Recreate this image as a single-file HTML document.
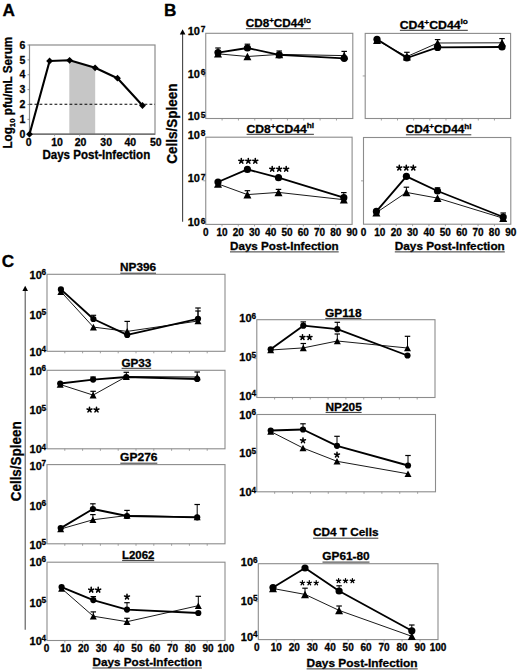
<!DOCTYPE html>
<html><head><meta charset="utf-8"><style>
html,body{margin:0;padding:0;background:#fff;}
svg{display:block;}
text{font-family:"Liberation Sans",sans-serif;stroke:#000;stroke-width:0.3px;}
</style></head><body>
<svg width="520" height="671" viewBox="0 0 520 671">
<rect width="520" height="671" fill="#fff"/>
<text x="2.5" y="15.9" font-size="17.2" text-anchor="start" font-weight="bold" fill="#000" >A</text>
<text x="164.1" y="15.9" font-size="17.2" text-anchor="start" font-weight="bold" fill="#000" >B</text>
<text x="1.8" y="267.2" font-size="17.2" text-anchor="start" font-weight="bold" fill="#000" >C</text>
<polygon points="69.3,60.4 95.2,67.9 95.2,134.2 69.3,134.2" fill="#c6c6c6"/>
<rect x="29.5" y="45.0" width="125.5" height="89.19999999999999" fill="none" stroke="#8c8c8c" stroke-width="1.2"/>
<line x1="29.5" y1="134.2" x2="155.0" y2="134.2" stroke="#666" stroke-width="1.2" />
<line x1="29.5" y1="104.3" x2="155.0" y2="104.3" stroke="#000" stroke-width="1.1" stroke-dasharray="2.8,2.2"/>
<line x1="27.5" y1="134.2" x2="29.5" y2="134.2" stroke="#777" stroke-width="0.8" />
<text x="25.3" y="137.9" font-size="10.5" text-anchor="end" font-weight="bold" fill="#000" >0</text>
<line x1="27.5" y1="119.33333333333333" x2="29.5" y2="119.33333333333333" stroke="#777" stroke-width="0.8" />
<text x="25.3" y="123.03" font-size="10.5" text-anchor="end" font-weight="bold" fill="#000" >1</text>
<line x1="27.5" y1="104.46666666666665" x2="29.5" y2="104.46666666666665" stroke="#777" stroke-width="0.8" />
<text x="25.3" y="108.17" font-size="10.5" text-anchor="end" font-weight="bold" fill="#000" >2</text>
<line x1="27.5" y1="89.6" x2="29.5" y2="89.6" stroke="#777" stroke-width="0.8" />
<text x="25.3" y="93.3" font-size="10.5" text-anchor="end" font-weight="bold" fill="#000" >3</text>
<line x1="27.5" y1="74.73333333333332" x2="29.5" y2="74.73333333333332" stroke="#777" stroke-width="0.8" />
<text x="25.3" y="78.43" font-size="10.5" text-anchor="end" font-weight="bold" fill="#000" >4</text>
<line x1="27.5" y1="59.86666666666666" x2="29.5" y2="59.86666666666666" stroke="#777" stroke-width="0.8" />
<text x="25.3" y="63.57" font-size="10.5" text-anchor="end" font-weight="bold" fill="#000" >5</text>
<line x1="27.5" y1="45.0" x2="29.5" y2="45.0" stroke="#777" stroke-width="0.8" />
<text x="25.3" y="48.7" font-size="10.5" text-anchor="end" font-weight="bold" fill="#000" >6</text>
<line x1="54.6" y1="134.2" x2="54.6" y2="136.2" stroke="#8c8c8c" stroke-width="0.8" />
<line x1="79.7" y1="134.2" x2="79.7" y2="136.2" stroke="#8c8c8c" stroke-width="0.8" />
<line x1="104.8" y1="134.2" x2="104.8" y2="136.2" stroke="#8c8c8c" stroke-width="0.8" />
<line x1="129.9" y1="134.2" x2="129.9" y2="136.2" stroke="#8c8c8c" stroke-width="0.8" />
<text x="28.7" y="146.3" font-size="10.5" text-anchor="middle" font-weight="bold" fill="#000" >0</text>
<text x="57.0" y="146.3" font-size="10.5" text-anchor="middle" font-weight="bold" fill="#000" >10</text>
<text x="80.5" y="146.3" font-size="10.5" text-anchor="middle" font-weight="bold" fill="#000" >20</text>
<text x="106.2" y="146.3" font-size="10.5" text-anchor="middle" font-weight="bold" fill="#000" >30</text>
<text x="130.3" y="146.3" font-size="10.5" text-anchor="middle" font-weight="bold" fill="#000" >40</text>
<text x="155.8" y="146.3" font-size="10.5" text-anchor="middle" font-weight="bold" fill="#000" >50</text>
<text x="42.4" y="158.7" font-size="12" text-anchor="start" font-weight="bold" fill="#000" textLength="107.8" lengthAdjust="spacingAndGlyphs">Days Post-Infection</text>
<text transform="translate(12.4,148.6) rotate(-90)" font-size="12" font-weight="bold" textLength="111.8" lengthAdjust="spacingAndGlyphs">Log<tspan font-size="8" dy="2.5">10</tspan><tspan dy="-2.5"> pfu/mL Serum</tspan></text>
<polyline points="29.5,134.2 49.6,61.0 69.6,60.3 95.1,67.8 117.5,78.2 142.5,105.5" fill="none" stroke="#000" stroke-width="2.1" stroke-linejoin="round"/>
<polygon points="29.5,130.79999999999998 32.9,134.2 29.5,137.6 26.1,134.2" fill="#000"/>
<polygon points="49.6,57.6 53.0,61.0 49.6,64.4 46.2,61.0" fill="#000"/>
<polygon points="69.6,56.9 73.0,60.3 69.6,63.699999999999996 66.19999999999999,60.3" fill="#000"/>
<polygon points="95.1,64.39999999999999 98.5,67.8 95.1,71.2 91.69999999999999,67.8" fill="#000"/>
<polygon points="117.5,74.8 120.9,78.2 117.5,81.60000000000001 114.1,78.2" fill="#000"/>
<polygon points="142.5,102.1 145.9,105.5 142.5,108.9 139.1,105.5" fill="#000"/>
<line x1="182.6" y1="33" x2="182.6" y2="221.8" stroke="#444" stroke-width="1.1" />
<polygon points="182.6,29.2 185.4,34.4 179.8,34.4" fill="#000"/>
<text transform="translate(177.2,163.8) rotate(-90)" font-size="14" font-weight="bold" textLength="80.2" lengthAdjust="spacingAndGlyphs">Cells/Spleen</text>
<rect x="205.75" y="33.3" width="147.05" height="85.2" fill="none" stroke="#8c8c8c" stroke-width="1.1"/>
<line x1="222.0888888888889" y1="118.5" x2="222.0888888888889" y2="120.5" stroke="#8c8c8c" stroke-width="0.8" />
<line x1="238.42777777777778" y1="118.5" x2="238.42777777777778" y2="120.5" stroke="#8c8c8c" stroke-width="0.8" />
<line x1="254.76666666666668" y1="118.5" x2="254.76666666666668" y2="120.5" stroke="#8c8c8c" stroke-width="0.8" />
<line x1="271.10555555555555" y1="118.5" x2="271.10555555555555" y2="120.5" stroke="#8c8c8c" stroke-width="0.8" />
<line x1="287.44444444444446" y1="118.5" x2="287.44444444444446" y2="120.5" stroke="#8c8c8c" stroke-width="0.8" />
<line x1="303.78333333333336" y1="118.5" x2="303.78333333333336" y2="120.5" stroke="#8c8c8c" stroke-width="0.8" />
<line x1="320.12222222222226" y1="118.5" x2="320.12222222222226" y2="120.5" stroke="#8c8c8c" stroke-width="0.8" />
<line x1="336.4611111111111" y1="118.5" x2="336.4611111111111" y2="120.5" stroke="#8c8c8c" stroke-width="0.8" />
<line x1="203.25" y1="75.9" x2="205.75" y2="75.9" stroke="#8c8c8c" stroke-width="0.8" />
<text x="245.7" y="26.8" font-size="11.3" font-weight="bold" textLength="65.3" lengthAdjust="spacingAndGlyphs">CD8<tspan font-size="7.7" dy="-4">+</tspan><tspan dy="4">CD44</tspan><tspan font-size="7.7" dy="-4.2">lo</tspan></text>
<line x1="245.89999999999998" y1="28.7" x2="310.8" y2="28.7" stroke="#333" stroke-width="1.0" />
<polyline points="218.0,53.8 247.4,56.5 279.2,54.4 344.2,55.6" fill="none" stroke="#1a1a1a" stroke-width="1.0" stroke-linejoin="round"/>
<polyline points="218.0,52.6 247.4,48.0 279.2,54.8 344.2,58.3" fill="none" stroke="#000" stroke-width="1.85" stroke-linejoin="round"/>
<line x1="344.2" y1="55.6" x2="344.2" y2="51.4" stroke="#000" stroke-width="1" />
<line x1="341.45" y1="51.4" x2="346.95" y2="51.4" stroke="#000" stroke-width="1.2" />
<line x1="218.0" y1="52.6" x2="218.0" y2="48.0" stroke="#000" stroke-width="1" />
<line x1="215.25" y1="48.0" x2="220.75" y2="48.0" stroke="#000" stroke-width="1.2" />
<line x1="247.4" y1="48.0" x2="247.4" y2="44.2" stroke="#000" stroke-width="1" />
<line x1="244.65" y1="44.2" x2="250.15" y2="44.2" stroke="#000" stroke-width="1.2" />
<line x1="279.2" y1="54.8" x2="279.2" y2="51.0" stroke="#000" stroke-width="1" />
<line x1="276.45" y1="51.0" x2="281.95" y2="51.0" stroke="#000" stroke-width="1.2" />
<polygon points="218.0,50.0 222.0,57.599999999999994 214.0,57.599999999999994" fill="#000"/>
<polygon points="247.4,52.7 251.4,60.3 243.4,60.3" fill="#000"/>
<polygon points="279.2,50.6 283.2,58.199999999999996 275.2,58.199999999999996" fill="#000"/>
<polygon points="344.2,51.800000000000004 348.2,59.4 340.2,59.4" fill="#000"/>
<circle cx="218.0" cy="52.6" r="3.6" fill="#000"/>
<circle cx="247.4" cy="48.0" r="3.6" fill="#000"/>
<circle cx="279.2" cy="54.8" r="3.6" fill="#000"/>
<circle cx="344.2" cy="58.3" r="3.6" fill="#000"/>
<text x="199.95" y="34.9" font-size="11" text-anchor="end" font-weight="bold" fill="#000" >10</text>
<text x="200.75" y="32.4" font-size="8.4" text-anchor="start" font-weight="bold" fill="#000" >7</text>
<text x="199.95" y="77.5" font-size="11" text-anchor="end" font-weight="bold" fill="#000" >10</text>
<text x="200.75" y="75.0" font-size="8.4" text-anchor="start" font-weight="bold" fill="#000" >6</text>
<text x="199.95" y="120.1" font-size="11" text-anchor="end" font-weight="bold" fill="#000" >10</text>
<text x="200.75" y="117.6" font-size="8.4" text-anchor="start" font-weight="bold" fill="#000" >5</text>
<rect x="365.2" y="33.4" width="145.40000000000003" height="85.1" fill="none" stroke="#8c8c8c" stroke-width="1.1"/>
<line x1="381.35555555555555" y1="118.5" x2="381.35555555555555" y2="120.5" stroke="#8c8c8c" stroke-width="0.8" />
<line x1="397.5111111111111" y1="118.5" x2="397.5111111111111" y2="120.5" stroke="#8c8c8c" stroke-width="0.8" />
<line x1="413.6666666666667" y1="118.5" x2="413.6666666666667" y2="120.5" stroke="#8c8c8c" stroke-width="0.8" />
<line x1="429.8222222222222" y1="118.5" x2="429.8222222222222" y2="120.5" stroke="#8c8c8c" stroke-width="0.8" />
<line x1="445.97777777777776" y1="118.5" x2="445.97777777777776" y2="120.5" stroke="#8c8c8c" stroke-width="0.8" />
<line x1="462.1333333333333" y1="118.5" x2="462.1333333333333" y2="120.5" stroke="#8c8c8c" stroke-width="0.8" />
<line x1="478.2888888888889" y1="118.5" x2="478.2888888888889" y2="120.5" stroke="#8c8c8c" stroke-width="0.8" />
<line x1="494.44444444444446" y1="118.5" x2="494.44444444444446" y2="120.5" stroke="#8c8c8c" stroke-width="0.8" />
<line x1="362.7" y1="75.95" x2="365.2" y2="75.95" stroke="#8c8c8c" stroke-width="0.8" />
<text x="399.7" y="28.6" font-size="11.3" font-weight="bold" textLength="68.3" lengthAdjust="spacingAndGlyphs">CD4<tspan font-size="7.7" dy="-4">+</tspan><tspan dy="4">CD44</tspan><tspan font-size="7.7" dy="-4.2">lo</tspan></text>
<line x1="399.9" y1="30.3" x2="467.8" y2="30.3" stroke="#333" stroke-width="1.0" />
<polyline points="377.0,40.3 406.9,56.6 437.6,43.0 502.0,42.8" fill="none" stroke="#1a1a1a" stroke-width="1.0" stroke-linejoin="round"/>
<polyline points="377.0,39.3 406.9,58.0 437.6,47.4 502.0,47.0" fill="none" stroke="#000" stroke-width="1.85" stroke-linejoin="round"/>
<line x1="437.6" y1="43.0" x2="437.6" y2="39.6" stroke="#000" stroke-width="1" />
<line x1="434.85" y1="39.6" x2="440.35" y2="39.6" stroke="#000" stroke-width="1.2" />
<line x1="502.0" y1="42.8" x2="502.0" y2="38.6" stroke="#000" stroke-width="1" />
<line x1="499.25" y1="38.6" x2="504.75" y2="38.6" stroke="#000" stroke-width="1.2" />
<line x1="406.9" y1="58.0" x2="406.9" y2="52.3" stroke="#000" stroke-width="1" />
<line x1="404.15" y1="52.3" x2="409.65" y2="52.3" stroke="#000" stroke-width="1.2" />
<polygon points="377.0,36.5 381.0,44.099999999999994 373.0,44.099999999999994" fill="#000"/>
<polygon points="406.9,52.800000000000004 410.9,60.4 402.9,60.4" fill="#000"/>
<polygon points="437.6,39.2 441.6,46.8 433.6,46.8" fill="#000"/>
<polygon points="502.0,39.0 506.0,46.599999999999994 498.0,46.599999999999994" fill="#000"/>
<circle cx="377.0" cy="39.3" r="3.6" fill="#000"/>
<circle cx="406.9" cy="58.0" r="3.6" fill="#000"/>
<circle cx="437.6" cy="47.4" r="3.6" fill="#000"/>
<circle cx="502.0" cy="47.0" r="3.6" fill="#000"/>
<rect x="205.75" y="137.2" width="146.35000000000002" height="87.20000000000002" fill="none" stroke="#8c8c8c" stroke-width="1.1"/>
<line x1="222.01111111111112" y1="224.4" x2="222.01111111111112" y2="226.4" stroke="#8c8c8c" stroke-width="0.8" />
<line x1="238.27222222222224" y1="224.4" x2="238.27222222222224" y2="226.4" stroke="#8c8c8c" stroke-width="0.8" />
<line x1="254.53333333333333" y1="224.4" x2="254.53333333333333" y2="226.4" stroke="#8c8c8c" stroke-width="0.8" />
<line x1="270.7944444444445" y1="224.4" x2="270.7944444444445" y2="226.4" stroke="#8c8c8c" stroke-width="0.8" />
<line x1="287.05555555555554" y1="224.4" x2="287.05555555555554" y2="226.4" stroke="#8c8c8c" stroke-width="0.8" />
<line x1="303.31666666666666" y1="224.4" x2="303.31666666666666" y2="226.4" stroke="#8c8c8c" stroke-width="0.8" />
<line x1="319.5777777777778" y1="224.4" x2="319.5777777777778" y2="226.4" stroke="#8c8c8c" stroke-width="0.8" />
<line x1="335.8388888888889" y1="224.4" x2="335.8388888888889" y2="226.4" stroke="#8c8c8c" stroke-width="0.8" />
<line x1="203.25" y1="180.8" x2="205.75" y2="180.8" stroke="#8c8c8c" stroke-width="0.8" />
<text x="246.4" y="132.6" font-size="11.3" font-weight="bold" textLength="67.7" lengthAdjust="spacingAndGlyphs">CD8<tspan font-size="7.7" dy="-4">+</tspan><tspan dy="4">CD44</tspan><tspan font-size="7.7" dy="-4.2">hi</tspan></text>
<line x1="246.6" y1="134.3" x2="313.90000000000003" y2="134.3" stroke="#333" stroke-width="1.0" />
<polyline points="218.0,183.9 247.4,194.6 278.5,192.4 343.8,199.7" fill="none" stroke="#1a1a1a" stroke-width="1.0" stroke-linejoin="round"/>
<polyline points="218.0,182.0 247.4,169.4 278.5,177.7 343.8,197.7" fill="none" stroke="#000" stroke-width="1.85" stroke-linejoin="round"/>
<line x1="247.4" y1="194.6" x2="247.4" y2="190.7" stroke="#000" stroke-width="1" />
<line x1="244.65" y1="190.7" x2="250.15" y2="190.7" stroke="#000" stroke-width="1.2" />
<line x1="278.5" y1="192.4" x2="278.5" y2="189.4" stroke="#000" stroke-width="1" />
<line x1="275.75" y1="189.4" x2="281.25" y2="189.4" stroke="#000" stroke-width="1.2" />
<line x1="343.8" y1="197.7" x2="343.8" y2="192.6" stroke="#000" stroke-width="1" />
<line x1="341.05" y1="192.6" x2="346.55" y2="192.6" stroke="#000" stroke-width="1.2" />
<polygon points="218.0,180.1 222.0,187.70000000000002 214.0,187.70000000000002" fill="#000"/>
<polygon points="247.4,190.79999999999998 251.4,198.4 243.4,198.4" fill="#000"/>
<polygon points="278.5,188.6 282.5,196.20000000000002 274.5,196.20000000000002" fill="#000"/>
<polygon points="343.8,195.89999999999998 347.8,203.5 339.8,203.5" fill="#000"/>
<circle cx="218.0" cy="182.0" r="3.6" fill="#000"/>
<circle cx="247.4" cy="169.4" r="3.6" fill="#000"/>
<circle cx="278.5" cy="177.7" r="3.6" fill="#000"/>
<circle cx="343.8" cy="197.7" r="3.6" fill="#000"/>
<path d="M241.30,161.06l0.00,-2.60M241.30,161.06l2.47,-0.80M241.30,161.06l-2.47,-0.80M241.30,161.06l1.53,2.10M241.30,161.06l-1.53,2.10M248.30,161.06l0.00,-2.60M248.30,161.06l2.47,-0.80M248.30,161.06l-2.47,-0.80M248.30,161.06l1.53,2.10M248.30,161.06l-1.53,2.10M255.30,161.06l0.00,-2.60M255.30,161.06l2.47,-0.80M255.30,161.06l-2.47,-0.80M255.30,161.06l1.53,2.10M255.30,161.06l-1.53,2.10" stroke="#000" stroke-width="1.55" stroke-linecap="round" fill="none"/>
<path d="M272.20,169.06l0.00,-2.60M272.20,169.06l2.47,-0.80M272.20,169.06l-2.47,-0.80M272.20,169.06l1.53,2.10M272.20,169.06l-1.53,2.10M279.20,169.06l0.00,-2.60M279.20,169.06l2.47,-0.80M279.20,169.06l-2.47,-0.80M279.20,169.06l1.53,2.10M279.20,169.06l-1.53,2.10M286.20,169.06l0.00,-2.60M286.20,169.06l2.47,-0.80M286.20,169.06l-2.47,-0.80M286.20,169.06l1.53,2.10M286.20,169.06l-1.53,2.10" stroke="#000" stroke-width="1.55" stroke-linecap="round" fill="none"/>
<text x="199.95" y="138.8" font-size="11" text-anchor="end" font-weight="bold" fill="#000" >10</text>
<text x="200.75" y="136.3" font-size="8.4" text-anchor="start" font-weight="bold" fill="#000" >8</text>
<text x="199.95" y="182.4" font-size="11" text-anchor="end" font-weight="bold" fill="#000" >10</text>
<text x="200.75" y="179.9" font-size="8.4" text-anchor="start" font-weight="bold" fill="#000" >7</text>
<text x="199.95" y="226.0" font-size="11" text-anchor="end" font-weight="bold" fill="#000" >10</text>
<text x="200.75" y="223.5" font-size="8.4" text-anchor="start" font-weight="bold" fill="#000" >6</text>
<text x="205.75" y="235.8" font-size="10" text-anchor="middle" font-weight="bold" fill="#000" >0</text>
<text x="222.01" y="235.8" font-size="10" text-anchor="middle" font-weight="bold" fill="#000" >10</text>
<text x="238.27" y="235.8" font-size="10" text-anchor="middle" font-weight="bold" fill="#000" >20</text>
<text x="254.53" y="235.8" font-size="10" text-anchor="middle" font-weight="bold" fill="#000" >30</text>
<text x="270.79" y="235.8" font-size="10" text-anchor="middle" font-weight="bold" fill="#000" >40</text>
<text x="287.06" y="235.8" font-size="10" text-anchor="middle" font-weight="bold" fill="#000" >50</text>
<text x="303.32" y="235.8" font-size="10" text-anchor="middle" font-weight="bold" fill="#000" >60</text>
<text x="319.58" y="235.8" font-size="10" text-anchor="middle" font-weight="bold" fill="#000" >70</text>
<text x="335.84" y="235.8" font-size="10" text-anchor="middle" font-weight="bold" fill="#000" >80</text>
<text x="352.1" y="235.8" font-size="10" text-anchor="middle" font-weight="bold" fill="#000" >90</text>
<rect x="363.5" y="137.5" width="147.3" height="86.69999999999999" fill="none" stroke="#8c8c8c" stroke-width="1.1"/>
<line x1="379.8666666666667" y1="224.2" x2="379.8666666666667" y2="226.2" stroke="#8c8c8c" stroke-width="0.8" />
<line x1="396.23333333333335" y1="224.2" x2="396.23333333333335" y2="226.2" stroke="#8c8c8c" stroke-width="0.8" />
<line x1="412.6" y1="224.2" x2="412.6" y2="226.2" stroke="#8c8c8c" stroke-width="0.8" />
<line x1="428.9666666666667" y1="224.2" x2="428.9666666666667" y2="226.2" stroke="#8c8c8c" stroke-width="0.8" />
<line x1="445.3333333333333" y1="224.2" x2="445.3333333333333" y2="226.2" stroke="#8c8c8c" stroke-width="0.8" />
<line x1="461.7" y1="224.2" x2="461.7" y2="226.2" stroke="#8c8c8c" stroke-width="0.8" />
<line x1="478.06666666666666" y1="224.2" x2="478.06666666666666" y2="226.2" stroke="#8c8c8c" stroke-width="0.8" />
<line x1="494.43333333333334" y1="224.2" x2="494.43333333333334" y2="226.2" stroke="#8c8c8c" stroke-width="0.8" />
<line x1="361.0" y1="180.85" x2="363.5" y2="180.85" stroke="#8c8c8c" stroke-width="0.8" />
<text x="405.7" y="133.0" font-size="11.3" font-weight="bold" textLength="65.8" lengthAdjust="spacingAndGlyphs">CD4<tspan font-size="7.7" dy="-4">+</tspan><tspan dy="4">CD44</tspan><tspan font-size="7.7" dy="-4.2">hi</tspan></text>
<line x1="405.9" y1="134.8" x2="471.3" y2="134.8" stroke="#333" stroke-width="1.0" />
<polyline points="376.4,212.6 406.4,192.4 437.5,198.1 503.2,218.2" fill="none" stroke="#1a1a1a" stroke-width="1.0" stroke-linejoin="round"/>
<polyline points="376.4,211.4 406.4,176.3 437.5,191.0 503.2,217.0" fill="none" stroke="#000" stroke-width="1.85" stroke-linejoin="round"/>
<line x1="406.4" y1="192.4" x2="406.4" y2="187.2" stroke="#000" stroke-width="1" />
<line x1="403.65" y1="187.2" x2="409.15" y2="187.2" stroke="#000" stroke-width="1.2" />
<line x1="503.2" y1="218.2" x2="503.2" y2="213.0" stroke="#000" stroke-width="1" />
<line x1="500.45" y1="213.0" x2="505.95" y2="213.0" stroke="#000" stroke-width="1.2" />
<line x1="437.5" y1="191.0" x2="437.5" y2="187.8" stroke="#000" stroke-width="1" />
<line x1="434.75" y1="187.8" x2="440.25" y2="187.8" stroke="#000" stroke-width="1.2" />
<polygon points="376.4,208.79999999999998 380.4,216.4 372.4,216.4" fill="#000"/>
<polygon points="406.4,188.6 410.4,196.20000000000002 402.4,196.20000000000002" fill="#000"/>
<polygon points="437.5,194.29999999999998 441.5,201.9 433.5,201.9" fill="#000"/>
<polygon points="503.2,214.39999999999998 507.2,222.0 499.2,222.0" fill="#000"/>
<circle cx="376.4" cy="211.4" r="3.6" fill="#000"/>
<circle cx="406.4" cy="176.3" r="3.6" fill="#000"/>
<circle cx="437.5" cy="191.0" r="3.6" fill="#000"/>
<circle cx="503.2" cy="217.0" r="3.6" fill="#000"/>
<path d="M399.30,167.86l0.00,-2.60M399.30,167.86l2.47,-0.80M399.30,167.86l-2.47,-0.80M399.30,167.86l1.53,2.10M399.30,167.86l-1.53,2.10M406.30,167.86l0.00,-2.60M406.30,167.86l2.47,-0.80M406.30,167.86l-2.47,-0.80M406.30,167.86l1.53,2.10M406.30,167.86l-1.53,2.10M413.30,167.86l0.00,-2.60M413.30,167.86l2.47,-0.80M413.30,167.86l-2.47,-0.80M413.30,167.86l1.53,2.10M413.30,167.86l-1.53,2.10" stroke="#000" stroke-width="1.55" stroke-linecap="round" fill="none"/>
<text x="363.5" y="235.8" font-size="10" text-anchor="middle" font-weight="bold" fill="#000" >0</text>
<text x="379.87" y="235.8" font-size="10" text-anchor="middle" font-weight="bold" fill="#000" >10</text>
<text x="396.23" y="235.8" font-size="10" text-anchor="middle" font-weight="bold" fill="#000" >20</text>
<text x="412.6" y="235.8" font-size="10" text-anchor="middle" font-weight="bold" fill="#000" >30</text>
<text x="428.97" y="235.8" font-size="10" text-anchor="middle" font-weight="bold" fill="#000" >40</text>
<text x="445.33" y="235.8" font-size="10" text-anchor="middle" font-weight="bold" fill="#000" >50</text>
<text x="461.7" y="235.8" font-size="10" text-anchor="middle" font-weight="bold" fill="#000" >60</text>
<text x="478.07" y="235.8" font-size="10" text-anchor="middle" font-weight="bold" fill="#000" >70</text>
<text x="494.43" y="235.8" font-size="10" text-anchor="middle" font-weight="bold" fill="#000" >80</text>
<text x="510.8" y="235.8" font-size="10" text-anchor="middle" font-weight="bold" fill="#000" >90</text>
<text x="230.0" y="249.6" font-size="11.5" text-anchor="start" font-weight="bold" fill="#000" textLength="108.7" lengthAdjust="spacingAndGlyphs">Days Post-Infection</text>
<line x1="230.0" y1="251.9" x2="338.7" y2="251.9" stroke="#333" stroke-width="1.0" />
<text x="394.8" y="249.6" font-size="11.5" text-anchor="start" font-weight="bold" fill="#000" textLength="110" lengthAdjust="spacingAndGlyphs">Days Post-Infection</text>
<line x1="394.8" y1="251.9" x2="504.8" y2="251.9" stroke="#333" stroke-width="1.0" />
<line x1="25.2" y1="290" x2="25.2" y2="629.8" stroke="#555" stroke-width="1.1" />
<polygon points="25.2,285.8 28.0,291.0 22.4,291.0" fill="#000"/>
<text transform="translate(21.2,501.3) rotate(-90)" font-size="14" font-weight="bold" textLength="80" lengthAdjust="spacingAndGlyphs">Cells/Spleen</text>
<rect x="47" y="274.3" width="178" height="77.0" fill="none" stroke="#8c8c8c" stroke-width="1.1"/>
<line x1="64.8" y1="351.3" x2="64.8" y2="353.3" stroke="#8c8c8c" stroke-width="0.8" />
<line x1="82.6" y1="351.3" x2="82.6" y2="353.3" stroke="#8c8c8c" stroke-width="0.8" />
<line x1="100.4" y1="351.3" x2="100.4" y2="353.3" stroke="#8c8c8c" stroke-width="0.8" />
<line x1="118.2" y1="351.3" x2="118.2" y2="353.3" stroke="#8c8c8c" stroke-width="0.8" />
<line x1="136.0" y1="351.3" x2="136.0" y2="353.3" stroke="#8c8c8c" stroke-width="0.8" />
<line x1="153.8" y1="351.3" x2="153.8" y2="353.3" stroke="#8c8c8c" stroke-width="0.8" />
<line x1="171.6" y1="351.3" x2="171.6" y2="353.3" stroke="#8c8c8c" stroke-width="0.8" />
<line x1="189.4" y1="351.3" x2="189.4" y2="353.3" stroke="#8c8c8c" stroke-width="0.8" />
<line x1="207.2" y1="351.3" x2="207.2" y2="353.3" stroke="#8c8c8c" stroke-width="0.8" />
<line x1="44.5" y1="312.8" x2="47" y2="312.8" stroke="#8c8c8c" stroke-width="0.8" />
<text x="120.1" y="271.4" font-size="11.3" font-weight="bold" textLength="36.1" lengthAdjust="spacingAndGlyphs">NP396</text>
<line x1="120.3" y1="273.2" x2="156.0" y2="273.2" stroke="#333" stroke-width="1.0" />
<polyline points="60.9,291.6 93.4,327.1 127.2,331.4 198.0,321.0" fill="none" stroke="#1a1a1a" stroke-width="1.0" stroke-linejoin="round"/>
<polyline points="60.9,289.4 93.4,319.0 127.2,334.9 198.0,318.8" fill="none" stroke="#000" stroke-width="1.85" stroke-linejoin="round"/>
<line x1="127.2" y1="331.4" x2="127.2" y2="321.4" stroke="#000" stroke-width="1" />
<line x1="124.45" y1="321.4" x2="129.95" y2="321.4" stroke="#000" stroke-width="1.2" />
<line x1="198.0" y1="321.0" x2="198.0" y2="311.0" stroke="#000" stroke-width="1" />
<line x1="195.25" y1="311.0" x2="200.75" y2="311.0" stroke="#000" stroke-width="1.2" />
<line x1="93.4" y1="319.0" x2="93.4" y2="315.3" stroke="#000" stroke-width="1" />
<line x1="90.65" y1="315.3" x2="96.15" y2="315.3" stroke="#000" stroke-width="1.2" />
<line x1="198.0" y1="318.8" x2="198.0" y2="308.0" stroke="#000" stroke-width="1" />
<line x1="195.25" y1="308.0" x2="200.75" y2="308.0" stroke="#000" stroke-width="1.2" />
<polygon points="60.9,288.3 64.4,294.90000000000003 57.4,294.90000000000003" fill="#000"/>
<polygon points="93.4,323.8 96.9,330.40000000000003 89.9,330.40000000000003" fill="#000"/>
<polygon points="127.2,328.09999999999997 130.7,334.7 123.7,334.7" fill="#000"/>
<polygon points="198.0,317.7 201.5,324.3 194.5,324.3" fill="#000"/>
<circle cx="60.9" cy="289.4" r="3.1" fill="#000"/>
<circle cx="93.4" cy="319.0" r="3.1" fill="#000"/>
<circle cx="127.2" cy="334.9" r="3.1" fill="#000"/>
<circle cx="198.0" cy="318.8" r="3.1" fill="#000"/>
<text x="41.8" y="278.65" font-size="11" text-anchor="end" font-weight="bold" fill="#000" >10</text>
<text x="41.6" y="275.1" font-size="8.2" text-anchor="start" font-weight="bold" fill="#000" >6</text>
<text x="41.8" y="318.65" font-size="11" text-anchor="end" font-weight="bold" fill="#000" >10</text>
<text x="41.6" y="315.1" font-size="8.2" text-anchor="start" font-weight="bold" fill="#000" >5</text>
<text x="41.8" y="355.55" font-size="11" text-anchor="end" font-weight="bold" fill="#000" >10</text>
<text x="41.6" y="352.0" font-size="8.2" text-anchor="start" font-weight="bold" fill="#000" >4</text>
<rect x="47" y="370.3" width="178" height="78.5" fill="none" stroke="#8c8c8c" stroke-width="1.1"/>
<line x1="64.8" y1="448.8" x2="64.8" y2="450.8" stroke="#8c8c8c" stroke-width="0.8" />
<line x1="82.6" y1="448.8" x2="82.6" y2="450.8" stroke="#8c8c8c" stroke-width="0.8" />
<line x1="100.4" y1="448.8" x2="100.4" y2="450.8" stroke="#8c8c8c" stroke-width="0.8" />
<line x1="118.2" y1="448.8" x2="118.2" y2="450.8" stroke="#8c8c8c" stroke-width="0.8" />
<line x1="136.0" y1="448.8" x2="136.0" y2="450.8" stroke="#8c8c8c" stroke-width="0.8" />
<line x1="153.8" y1="448.8" x2="153.8" y2="450.8" stroke="#8c8c8c" stroke-width="0.8" />
<line x1="171.6" y1="448.8" x2="171.6" y2="450.8" stroke="#8c8c8c" stroke-width="0.8" />
<line x1="189.4" y1="448.8" x2="189.4" y2="450.8" stroke="#8c8c8c" stroke-width="0.8" />
<line x1="207.2" y1="448.8" x2="207.2" y2="450.8" stroke="#8c8c8c" stroke-width="0.8" />
<line x1="44.5" y1="409.55" x2="47" y2="409.55" stroke="#8c8c8c" stroke-width="0.8" />
<text x="121.4" y="366.5" font-size="11.3" font-weight="bold" textLength="30.0" lengthAdjust="spacingAndGlyphs">GP33</text>
<line x1="121.60000000000001" y1="368.3" x2="151.20000000000002" y2="368.3" stroke="#333" stroke-width="1.0" />
<polyline points="60.2,384.5 93.1,395.1 126.3,376.6 197.2,377.0" fill="none" stroke="#1a1a1a" stroke-width="1.0" stroke-linejoin="round"/>
<polyline points="60.2,383.5 93.1,379.6 126.3,377.0 197.2,379.0" fill="none" stroke="#000" stroke-width="1.85" stroke-linejoin="round"/>
<line x1="93.1" y1="395.1" x2="93.1" y2="391.3" stroke="#000" stroke-width="1" />
<line x1="90.35" y1="391.3" x2="95.85" y2="391.3" stroke="#000" stroke-width="1.2" />
<line x1="126.3" y1="376.6" x2="126.3" y2="372.3" stroke="#000" stroke-width="1" />
<line x1="123.55" y1="372.3" x2="129.05" y2="372.3" stroke="#000" stroke-width="1.2" />
<line x1="197.2" y1="377.0" x2="197.2" y2="372.0" stroke="#000" stroke-width="1" />
<line x1="194.45" y1="372.0" x2="199.95" y2="372.0" stroke="#000" stroke-width="1.2" />
<line x1="93.1" y1="379.6" x2="93.1" y2="377.0" stroke="#000" stroke-width="1" />
<line x1="90.35" y1="377.0" x2="95.85" y2="377.0" stroke="#000" stroke-width="1.2" />
<polygon points="60.2,381.2 63.7,387.8 56.7,387.8" fill="#000"/>
<polygon points="93.1,391.8 96.6,398.40000000000003 89.6,398.40000000000003" fill="#000"/>
<polygon points="126.3,373.3 129.8,379.90000000000003 122.8,379.90000000000003" fill="#000"/>
<polygon points="197.2,373.7 200.7,380.3 193.7,380.3" fill="#000"/>
<circle cx="60.2" cy="383.5" r="3.1" fill="#000"/>
<circle cx="93.1" cy="379.6" r="3.1" fill="#000"/>
<circle cx="126.3" cy="377.0" r="3.1" fill="#000"/>
<circle cx="197.2" cy="379.0" r="3.1" fill="#000"/>
<path d="M89.50,409.76l0.00,-2.60M89.50,409.76l2.47,-0.80M89.50,409.76l-2.47,-0.80M89.50,409.76l1.53,2.10M89.50,409.76l-1.53,2.10M96.50,409.76l0.00,-2.60M96.50,409.76l2.47,-0.80M96.50,409.76l-2.47,-0.80M96.50,409.76l1.53,2.10M96.50,409.76l-1.53,2.10" stroke="#000" stroke-width="1.55" stroke-linecap="round" fill="none"/>
<text x="41.8" y="374.75" font-size="11" text-anchor="end" font-weight="bold" fill="#000" >10</text>
<text x="41.6" y="371.2" font-size="8.2" text-anchor="start" font-weight="bold" fill="#000" >6</text>
<text x="41.8" y="414.3" font-size="11" text-anchor="end" font-weight="bold" fill="#000" >10</text>
<text x="41.6" y="410.75" font-size="8.2" text-anchor="start" font-weight="bold" fill="#000" >5</text>
<text x="41.8" y="453.15" font-size="11" text-anchor="end" font-weight="bold" fill="#000" >10</text>
<text x="41.6" y="449.6" font-size="8.2" text-anchor="start" font-weight="bold" fill="#000" >4</text>
<rect x="47" y="464.6" width="178" height="79.19999999999993" fill="none" stroke="#8c8c8c" stroke-width="1.1"/>
<line x1="64.8" y1="543.8" x2="64.8" y2="545.8" stroke="#8c8c8c" stroke-width="0.8" />
<line x1="82.6" y1="543.8" x2="82.6" y2="545.8" stroke="#8c8c8c" stroke-width="0.8" />
<line x1="100.4" y1="543.8" x2="100.4" y2="545.8" stroke="#8c8c8c" stroke-width="0.8" />
<line x1="118.2" y1="543.8" x2="118.2" y2="545.8" stroke="#8c8c8c" stroke-width="0.8" />
<line x1="136.0" y1="543.8" x2="136.0" y2="545.8" stroke="#8c8c8c" stroke-width="0.8" />
<line x1="153.8" y1="543.8" x2="153.8" y2="545.8" stroke="#8c8c8c" stroke-width="0.8" />
<line x1="171.6" y1="543.8" x2="171.6" y2="545.8" stroke="#8c8c8c" stroke-width="0.8" />
<line x1="189.4" y1="543.8" x2="189.4" y2="545.8" stroke="#8c8c8c" stroke-width="0.8" />
<line x1="207.2" y1="543.8" x2="207.2" y2="545.8" stroke="#8c8c8c" stroke-width="0.8" />
<line x1="44.5" y1="504.2" x2="47" y2="504.2" stroke="#8c8c8c" stroke-width="0.8" />
<text x="120.1" y="461.4" font-size="11.3" font-weight="bold" textLength="37.4" lengthAdjust="spacingAndGlyphs">GP276</text>
<line x1="120.3" y1="463.2" x2="157.3" y2="463.2" stroke="#333" stroke-width="1.0" />
<polyline points="60.7,529.0 92.9,519.8 127.0,515.5 197.2,517.0" fill="none" stroke="#1a1a1a" stroke-width="1.0" stroke-linejoin="round"/>
<polyline points="60.7,528.1 92.9,509.0 127.0,516.0 197.2,517.3" fill="none" stroke="#000" stroke-width="1.85" stroke-linejoin="round"/>
<line x1="92.9" y1="519.8" x2="92.9" y2="514.6" stroke="#000" stroke-width="1" />
<line x1="90.15" y1="514.6" x2="95.65" y2="514.6" stroke="#000" stroke-width="1.2" />
<line x1="197.2" y1="517.0" x2="197.2" y2="504.5" stroke="#000" stroke-width="1" />
<line x1="194.45" y1="504.5" x2="199.95" y2="504.5" stroke="#000" stroke-width="1.2" />
<line x1="92.9" y1="509.0" x2="92.9" y2="503.8" stroke="#000" stroke-width="1" />
<line x1="90.15" y1="503.8" x2="95.65" y2="503.8" stroke="#000" stroke-width="1.2" />
<line x1="127.0" y1="516.0" x2="127.0" y2="510.4" stroke="#000" stroke-width="1" />
<line x1="124.25" y1="510.4" x2="129.75" y2="510.4" stroke="#000" stroke-width="1.2" />
<polygon points="60.7,525.7 64.2,532.3 57.2,532.3" fill="#000"/>
<polygon points="92.9,516.5 96.4,523.0999999999999 89.4,523.0999999999999" fill="#000"/>
<polygon points="127.0,512.2 130.5,518.8 123.5,518.8" fill="#000"/>
<polygon points="197.2,513.7 200.7,520.3 193.7,520.3" fill="#000"/>
<circle cx="60.7" cy="528.1" r="3.1" fill="#000"/>
<circle cx="92.9" cy="509.0" r="3.1" fill="#000"/>
<circle cx="127.0" cy="516.0" r="3.1" fill="#000"/>
<circle cx="197.2" cy="517.3" r="3.1" fill="#000"/>
<text x="41.8" y="469.75" font-size="11" text-anchor="end" font-weight="bold" fill="#000" >10</text>
<text x="41.6" y="466.2" font-size="8.2" text-anchor="start" font-weight="bold" fill="#000" >7</text>
<text x="41.8" y="509.65" font-size="11" text-anchor="end" font-weight="bold" fill="#000" >10</text>
<text x="41.6" y="506.1" font-size="8.2" text-anchor="start" font-weight="bold" fill="#000" >6</text>
<text x="41.8" y="548.85" font-size="11" text-anchor="end" font-weight="bold" fill="#000" >10</text>
<text x="41.6" y="545.3" font-size="8.2" text-anchor="start" font-weight="bold" fill="#000" >5</text>
<rect x="47" y="562.2" width="178" height="78.29999999999995" fill="none" stroke="#8c8c8c" stroke-width="1.1"/>
<line x1="64.8" y1="640.5" x2="64.8" y2="642.5" stroke="#8c8c8c" stroke-width="0.8" />
<line x1="82.6" y1="640.5" x2="82.6" y2="642.5" stroke="#8c8c8c" stroke-width="0.8" />
<line x1="100.4" y1="640.5" x2="100.4" y2="642.5" stroke="#8c8c8c" stroke-width="0.8" />
<line x1="118.2" y1="640.5" x2="118.2" y2="642.5" stroke="#8c8c8c" stroke-width="0.8" />
<line x1="136.0" y1="640.5" x2="136.0" y2="642.5" stroke="#8c8c8c" stroke-width="0.8" />
<line x1="153.8" y1="640.5" x2="153.8" y2="642.5" stroke="#8c8c8c" stroke-width="0.8" />
<line x1="171.6" y1="640.5" x2="171.6" y2="642.5" stroke="#8c8c8c" stroke-width="0.8" />
<line x1="189.4" y1="640.5" x2="189.4" y2="642.5" stroke="#8c8c8c" stroke-width="0.8" />
<line x1="207.2" y1="640.5" x2="207.2" y2="642.5" stroke="#8c8c8c" stroke-width="0.8" />
<line x1="44.5" y1="601.35" x2="47" y2="601.35" stroke="#8c8c8c" stroke-width="0.8" />
<text x="121.9" y="558.8" font-size="11.3" font-weight="bold" textLength="32.5" lengthAdjust="spacingAndGlyphs">L2062</text>
<line x1="122.10000000000001" y1="560.5999999999999" x2="154.20000000000002" y2="560.5999999999999" stroke="#333" stroke-width="1.0" />
<polyline points="61.6,588.5 93.3,616.2 127.0,621.7 198.3,605.7" fill="none" stroke="#1a1a1a" stroke-width="1.0" stroke-linejoin="round"/>
<polyline points="61.6,587.1 93.3,600.1 127.0,609.6 198.3,613.0" fill="none" stroke="#000" stroke-width="1.85" stroke-linejoin="round"/>
<line x1="93.3" y1="616.2" x2="93.3" y2="611.9" stroke="#000" stroke-width="1" />
<line x1="90.55" y1="611.9" x2="96.05" y2="611.9" stroke="#000" stroke-width="1.2" />
<line x1="127.0" y1="621.7" x2="127.0" y2="618.3" stroke="#000" stroke-width="1" />
<line x1="124.25" y1="618.3" x2="129.75" y2="618.3" stroke="#000" stroke-width="1.2" />
<line x1="198.3" y1="605.7" x2="198.3" y2="596.3" stroke="#000" stroke-width="1" />
<line x1="195.55" y1="596.3" x2="201.05" y2="596.3" stroke="#000" stroke-width="1.2" />
<line x1="93.3" y1="600.1" x2="93.3" y2="596.6" stroke="#000" stroke-width="1" />
<line x1="90.55" y1="596.6" x2="96.05" y2="596.6" stroke="#000" stroke-width="1.2" />
<line x1="127.0" y1="609.6" x2="127.0" y2="602.7" stroke="#000" stroke-width="1" />
<line x1="124.25" y1="602.7" x2="129.75" y2="602.7" stroke="#000" stroke-width="1.2" />
<polygon points="61.6,585.2 65.1,591.8 58.1,591.8" fill="#000"/>
<polygon points="93.3,612.9000000000001 96.8,619.5 89.8,619.5" fill="#000"/>
<polygon points="127.0,618.4000000000001 130.5,625.0 123.5,625.0" fill="#000"/>
<polygon points="198.3,602.4000000000001 201.8,609.0 194.8,609.0" fill="#000"/>
<circle cx="61.6" cy="587.1" r="3.1" fill="#000"/>
<circle cx="93.3" cy="600.1" r="3.1" fill="#000"/>
<circle cx="127.0" cy="609.6" r="3.1" fill="#000"/>
<circle cx="198.3" cy="613.0" r="3.1" fill="#000"/>
<path d="M91.20,589.96l0.00,-2.60M91.20,589.96l2.47,-0.80M91.20,589.96l-2.47,-0.80M91.20,589.96l1.53,2.10M91.20,589.96l-1.53,2.10M98.20,589.96l0.00,-2.60M98.20,589.96l2.47,-0.80M98.20,589.96l-2.47,-0.80M98.20,589.96l1.53,2.10M98.20,589.96l-1.53,2.10" stroke="#000" stroke-width="1.55" stroke-linecap="round" fill="none"/>
<path d="M127.00,596.86l0.00,-2.60M127.00,596.86l2.47,-0.80M127.00,596.86l-2.47,-0.80M127.00,596.86l1.53,2.10M127.00,596.86l-1.53,2.10" stroke="#000" stroke-width="1.55" stroke-linecap="round" fill="none"/>
<text x="41.8" y="565.55" font-size="11" text-anchor="end" font-weight="bold" fill="#000" >10</text>
<text x="41.6" y="562.0" font-size="8.2" text-anchor="start" font-weight="bold" fill="#000" >6</text>
<text x="41.8" y="606.5" font-size="11" text-anchor="end" font-weight="bold" fill="#000" >10</text>
<text x="41.6" y="602.95" font-size="8.2" text-anchor="start" font-weight="bold" fill="#000" >5</text>
<text x="41.8" y="644.85" font-size="11" text-anchor="end" font-weight="bold" fill="#000" >10</text>
<text x="41.6" y="641.3" font-size="8.2" text-anchor="start" font-weight="bold" fill="#000" >4</text>
<text x="46.5" y="651.7" font-size="10" text-anchor="middle" font-weight="bold" fill="#000" >0</text>
<text x="65.7" y="651.7" font-size="10" text-anchor="middle" font-weight="bold" fill="#000" >10</text>
<text x="83.5" y="651.7" font-size="10" text-anchor="middle" font-weight="bold" fill="#000" >20</text>
<text x="101.3" y="651.7" font-size="10" text-anchor="middle" font-weight="bold" fill="#000" >30</text>
<text x="119.1" y="651.7" font-size="10" text-anchor="middle" font-weight="bold" fill="#000" >40</text>
<text x="136.9" y="651.7" font-size="10" text-anchor="middle" font-weight="bold" fill="#000" >50</text>
<text x="154.7" y="651.7" font-size="10" text-anchor="middle" font-weight="bold" fill="#000" >60</text>
<text x="172.5" y="651.7" font-size="10" text-anchor="middle" font-weight="bold" fill="#000" >70</text>
<text x="190.3" y="651.7" font-size="10" text-anchor="middle" font-weight="bold" fill="#000" >80</text>
<text x="208.1" y="651.7" font-size="10" text-anchor="middle" font-weight="bold" fill="#000" >90</text>
<text x="225.9" y="651.7" font-size="10" text-anchor="middle" font-weight="bold" fill="#000" >100</text>
<text x="92.5" y="666.0" font-size="11.5" text-anchor="start" font-weight="bold" fill="#000" textLength="109.4" lengthAdjust="spacingAndGlyphs">Days Post-Infection</text>
<line x1="92.5" y1="668.0" x2="201.9" y2="668.0" stroke="#333" stroke-width="1.0" />
<rect x="256.8" y="319.7" width="178.2" height="77.80000000000001" fill="none" stroke="#8c8c8c" stroke-width="1.1"/>
<line x1="274.62" y1="397.5" x2="274.62" y2="399.5" stroke="#8c8c8c" stroke-width="0.8" />
<line x1="292.44" y1="397.5" x2="292.44" y2="399.5" stroke="#8c8c8c" stroke-width="0.8" />
<line x1="310.26" y1="397.5" x2="310.26" y2="399.5" stroke="#8c8c8c" stroke-width="0.8" />
<line x1="328.08000000000004" y1="397.5" x2="328.08000000000004" y2="399.5" stroke="#8c8c8c" stroke-width="0.8" />
<line x1="345.9" y1="397.5" x2="345.9" y2="399.5" stroke="#8c8c8c" stroke-width="0.8" />
<line x1="363.72" y1="397.5" x2="363.72" y2="399.5" stroke="#8c8c8c" stroke-width="0.8" />
<line x1="381.53999999999996" y1="397.5" x2="381.53999999999996" y2="399.5" stroke="#8c8c8c" stroke-width="0.8" />
<line x1="399.36" y1="397.5" x2="399.36" y2="399.5" stroke="#8c8c8c" stroke-width="0.8" />
<line x1="417.18" y1="397.5" x2="417.18" y2="399.5" stroke="#8c8c8c" stroke-width="0.8" />
<line x1="254.3" y1="358.6" x2="256.8" y2="358.6" stroke="#8c8c8c" stroke-width="0.8" />
<text x="325.1" y="316.6" font-size="11.3" font-weight="bold" textLength="36.5" lengthAdjust="spacingAndGlyphs">GP118</text>
<line x1="325.3" y1="318.4" x2="361.40000000000003" y2="318.4" stroke="#333" stroke-width="1.0" />
<polyline points="270.7,350.0 303.3,347.9 337.3,341.0 407.5,348.0" fill="none" stroke="#1a1a1a" stroke-width="1.0" stroke-linejoin="round"/>
<polyline points="270.7,349.3 303.3,325.7 337.3,329.2 407.5,355.5" fill="none" stroke="#000" stroke-width="1.85" stroke-linejoin="round"/>
<line x1="303.3" y1="347.9" x2="303.3" y2="343.5" stroke="#000" stroke-width="1" />
<line x1="300.55" y1="343.5" x2="306.05" y2="343.5" stroke="#000" stroke-width="1.2" />
<line x1="337.3" y1="341.0" x2="337.3" y2="334.0" stroke="#000" stroke-width="1" />
<line x1="334.55" y1="334.0" x2="340.05" y2="334.0" stroke="#000" stroke-width="1.2" />
<line x1="407.5" y1="348.0" x2="407.5" y2="336.3" stroke="#000" stroke-width="1" />
<line x1="404.75" y1="336.3" x2="410.25" y2="336.3" stroke="#000" stroke-width="1.2" />
<line x1="303.3" y1="325.7" x2="303.3" y2="321.9" stroke="#000" stroke-width="1" />
<line x1="300.55" y1="321.9" x2="306.05" y2="321.9" stroke="#000" stroke-width="1.2" />
<line x1="337.3" y1="329.2" x2="337.3" y2="322.3" stroke="#000" stroke-width="1" />
<line x1="334.55" y1="322.3" x2="340.05" y2="322.3" stroke="#000" stroke-width="1.2" />
<polygon points="270.7,346.7 274.2,353.3 267.2,353.3" fill="#000"/>
<polygon points="303.3,344.59999999999997 306.8,351.2 299.8,351.2" fill="#000"/>
<polygon points="337.3,337.7 340.8,344.3 333.8,344.3" fill="#000"/>
<polygon points="407.5,344.7 411.0,351.3 404.0,351.3" fill="#000"/>
<circle cx="270.7" cy="349.3" r="3.1" fill="#000"/>
<circle cx="303.3" cy="325.7" r="3.1" fill="#000"/>
<circle cx="337.3" cy="329.2" r="3.1" fill="#000"/>
<circle cx="407.5" cy="355.5" r="3.1" fill="#000"/>
<path d="M302.50,337.36l0.00,-2.60M302.50,337.36l2.47,-0.80M302.50,337.36l-2.47,-0.80M302.50,337.36l1.53,2.10M302.50,337.36l-1.53,2.10M309.50,337.36l0.00,-2.60M309.50,337.36l2.47,-0.80M309.50,337.36l-2.47,-0.80M309.50,337.36l1.53,2.10M309.50,337.36l-1.53,2.10" stroke="#000" stroke-width="1.55" stroke-linecap="round" fill="none"/>
<text x="251.6" y="322.25" font-size="11" text-anchor="end" font-weight="bold" fill="#000" >10</text>
<text x="251.4" y="318.7" font-size="8.2" text-anchor="start" font-weight="bold" fill="#000" >6</text>
<text x="251.6" y="361.05" font-size="11" text-anchor="end" font-weight="bold" fill="#000" >10</text>
<text x="251.4" y="357.5" font-size="8.2" text-anchor="start" font-weight="bold" fill="#000" >5</text>
<text x="251.6" y="399.95" font-size="11" text-anchor="end" font-weight="bold" fill="#000" >10</text>
<text x="251.4" y="396.4" font-size="8.2" text-anchor="start" font-weight="bold" fill="#000" >4</text>
<rect x="256.8" y="414.5" width="178.7" height="77.30000000000001" fill="none" stroke="#8c8c8c" stroke-width="1.1"/>
<line x1="274.67" y1="491.8" x2="274.67" y2="493.8" stroke="#8c8c8c" stroke-width="0.8" />
<line x1="292.54" y1="491.8" x2="292.54" y2="493.8" stroke="#8c8c8c" stroke-width="0.8" />
<line x1="310.41" y1="491.8" x2="310.41" y2="493.8" stroke="#8c8c8c" stroke-width="0.8" />
<line x1="328.28" y1="491.8" x2="328.28" y2="493.8" stroke="#8c8c8c" stroke-width="0.8" />
<line x1="346.15" y1="491.8" x2="346.15" y2="493.8" stroke="#8c8c8c" stroke-width="0.8" />
<line x1="364.02" y1="491.8" x2="364.02" y2="493.8" stroke="#8c8c8c" stroke-width="0.8" />
<line x1="381.89" y1="491.8" x2="381.89" y2="493.8" stroke="#8c8c8c" stroke-width="0.8" />
<line x1="399.76" y1="491.8" x2="399.76" y2="493.8" stroke="#8c8c8c" stroke-width="0.8" />
<line x1="417.63" y1="491.8" x2="417.63" y2="493.8" stroke="#8c8c8c" stroke-width="0.8" />
<line x1="254.3" y1="453.15" x2="256.8" y2="453.15" stroke="#8c8c8c" stroke-width="0.8" />
<text x="325.4" y="411.0" font-size="11.3" font-weight="bold" textLength="36.4" lengthAdjust="spacingAndGlyphs">NP205</text>
<line x1="325.59999999999997" y1="412.4" x2="361.6" y2="412.4" stroke="#333" stroke-width="1.0" />
<polyline points="270.7,431.5 303.0,448.0 337.0,461.3 408.0,473.8" fill="none" stroke="#1a1a1a" stroke-width="1.0" stroke-linejoin="round"/>
<polyline points="270.7,430.5 303.0,429.5 337.0,445.8 408.0,465.5" fill="none" stroke="#000" stroke-width="1.85" stroke-linejoin="round"/>
<line x1="303.0" y1="429.5" x2="303.0" y2="423.8" stroke="#000" stroke-width="1" />
<line x1="300.25" y1="423.8" x2="305.75" y2="423.8" stroke="#000" stroke-width="1.2" />
<line x1="337.0" y1="445.8" x2="337.0" y2="436.3" stroke="#000" stroke-width="1" />
<line x1="334.25" y1="436.3" x2="339.75" y2="436.3" stroke="#000" stroke-width="1.2" />
<line x1="408.0" y1="465.5" x2="408.0" y2="455.5" stroke="#000" stroke-width="1" />
<line x1="405.25" y1="455.5" x2="410.75" y2="455.5" stroke="#000" stroke-width="1.2" />
<polygon points="270.7,428.2 274.2,434.8 267.2,434.8" fill="#000"/>
<polygon points="303.0,444.7 306.5,451.3 299.5,451.3" fill="#000"/>
<polygon points="337.0,458.0 340.5,464.6 333.5,464.6" fill="#000"/>
<polygon points="408.0,470.5 411.5,477.1 404.5,477.1" fill="#000"/>
<circle cx="270.7" cy="430.5" r="3.1" fill="#000"/>
<circle cx="303.0" cy="429.5" r="3.1" fill="#000"/>
<circle cx="337.0" cy="445.8" r="3.1" fill="#000"/>
<circle cx="408.0" cy="465.5" r="3.1" fill="#000"/>
<path d="M303.00,440.56l0.00,-2.60M303.00,440.56l2.47,-0.80M303.00,440.56l-2.47,-0.80M303.00,440.56l1.53,2.10M303.00,440.56l-1.53,2.10" stroke="#000" stroke-width="1.55" stroke-linecap="round" fill="none"/>
<path d="M337.00,454.86l0.00,-2.60M337.00,454.86l2.47,-0.80M337.00,454.86l-2.47,-0.80M337.00,454.86l1.53,2.10M337.00,454.86l-1.53,2.10" stroke="#000" stroke-width="1.55" stroke-linecap="round" fill="none"/>
<text x="251.6" y="418.55" font-size="11" text-anchor="end" font-weight="bold" fill="#000" >10</text>
<text x="251.4" y="415.0" font-size="8.2" text-anchor="start" font-weight="bold" fill="#000" >6</text>
<text x="251.6" y="457.4" font-size="11" text-anchor="end" font-weight="bold" fill="#000" >10</text>
<text x="251.4" y="453.85" font-size="8.2" text-anchor="start" font-weight="bold" fill="#000" >5</text>
<text x="251.6" y="496.05" font-size="11" text-anchor="end" font-weight="bold" fill="#000" >10</text>
<text x="251.4" y="492.5" font-size="8.2" text-anchor="start" font-weight="bold" fill="#000" >4</text>
<text x="312.9" y="536.1" font-size="11.3" font-weight="bold" textLength="65.6" lengthAdjust="spacingAndGlyphs">CD4 T Cells</text>
<line x1="313.09999999999997" y1="538.2" x2="378.3" y2="538.2" stroke="#333" stroke-width="1.0" />
<rect x="258.3" y="563.7" width="179.7" height="75.89999999999998" fill="none" stroke="#8c8c8c" stroke-width="1.1"/>
<line x1="276.27" y1="639.6" x2="276.27" y2="641.6" stroke="#8c8c8c" stroke-width="0.8" />
<line x1="294.24" y1="639.6" x2="294.24" y2="641.6" stroke="#8c8c8c" stroke-width="0.8" />
<line x1="312.21" y1="639.6" x2="312.21" y2="641.6" stroke="#8c8c8c" stroke-width="0.8" />
<line x1="330.18" y1="639.6" x2="330.18" y2="641.6" stroke="#8c8c8c" stroke-width="0.8" />
<line x1="348.15" y1="639.6" x2="348.15" y2="641.6" stroke="#8c8c8c" stroke-width="0.8" />
<line x1="366.12" y1="639.6" x2="366.12" y2="641.6" stroke="#8c8c8c" stroke-width="0.8" />
<line x1="384.09000000000003" y1="639.6" x2="384.09000000000003" y2="641.6" stroke="#8c8c8c" stroke-width="0.8" />
<line x1="402.06" y1="639.6" x2="402.06" y2="641.6" stroke="#8c8c8c" stroke-width="0.8" />
<line x1="420.03" y1="639.6" x2="420.03" y2="641.6" stroke="#8c8c8c" stroke-width="0.8" />
<line x1="255.8" y1="601.6500000000001" x2="258.3" y2="601.6500000000001" stroke="#8c8c8c" stroke-width="0.8" />
<text x="322.3" y="560.4" font-size="11.3" font-weight="bold" textLength="47.4" lengthAdjust="spacingAndGlyphs">GP61-80</text>
<line x1="322.5" y1="562.1" x2="369.5" y2="562.1" stroke="#333" stroke-width="1.0" />
<polyline points="273.0,588.5 305.0,594.4 339.1,610.4 411.8,636.3" fill="none" stroke="#1a1a1a" stroke-width="1.0" stroke-linejoin="round"/>
<polyline points="273.0,587.5 305.0,568.0 339.1,591.0 411.8,630.8" fill="none" stroke="#000" stroke-width="1.85" stroke-linejoin="round"/>
<line x1="305.0" y1="594.4" x2="305.0" y2="588.2" stroke="#000" stroke-width="1" />
<line x1="302.25" y1="588.2" x2="307.75" y2="588.2" stroke="#000" stroke-width="1.2" />
<line x1="339.1" y1="610.4" x2="339.1" y2="606.0" stroke="#000" stroke-width="1" />
<line x1="336.35" y1="606.0" x2="341.85" y2="606.0" stroke="#000" stroke-width="1.2" />
<line x1="339.1" y1="591.0" x2="339.1" y2="585.8" stroke="#000" stroke-width="1" />
<line x1="336.35" y1="585.8" x2="341.85" y2="585.8" stroke="#000" stroke-width="1.2" />
<line x1="411.8" y1="630.8" x2="411.8" y2="625.0" stroke="#000" stroke-width="1" />
<line x1="409.05" y1="625.0" x2="414.55" y2="625.0" stroke="#000" stroke-width="1.2" />
<polygon points="273.0,584.75 277.0,592.25 269.0,592.25" fill="#000"/>
<polygon points="305.0,590.65 309.0,598.15 301.0,598.15" fill="#000"/>
<polygon points="339.1,606.65 343.1,614.15 335.1,614.15" fill="#000"/>
<polygon points="411.8,632.55 415.8,640.05 407.8,640.05" fill="#000"/>
<circle cx="273.0" cy="587.5" r="3.6" fill="#000"/>
<circle cx="305.0" cy="568.0" r="3.6" fill="#000"/>
<circle cx="339.1" cy="591.0" r="3.6" fill="#000"/>
<circle cx="411.8" cy="630.8" r="3.6" fill="#000"/>
<path d="M302.40,582.93l0.00,-2.30M302.40,582.93l2.19,-0.71M302.40,582.93l-2.19,-0.71M302.40,582.93l1.35,1.86M302.40,582.93l-1.35,1.86M309.30,582.93l0.00,-2.30M309.30,582.93l2.19,-0.71M309.30,582.93l-2.19,-0.71M309.30,582.93l1.35,1.86M309.30,582.93l-1.35,1.86M316.20,582.93l0.00,-2.30M316.20,582.93l2.19,-0.71M316.20,582.93l-2.19,-0.71M316.20,582.93l1.35,1.86M316.20,582.93l-1.35,1.86" stroke="#000" stroke-width="1.25" stroke-linecap="round" fill="none"/>
<path d="M338.60,580.83l0.00,-2.30M338.60,580.83l2.19,-0.71M338.60,580.83l-2.19,-0.71M338.60,580.83l1.35,1.86M338.60,580.83l-1.35,1.86M345.50,580.83l0.00,-2.30M345.50,580.83l2.19,-0.71M345.50,580.83l-2.19,-0.71M345.50,580.83l1.35,1.86M345.50,580.83l-1.35,1.86M352.40,580.83l0.00,-2.30M352.40,580.83l2.19,-0.71M352.40,580.83l-2.19,-0.71M352.40,580.83l1.35,1.86M352.40,580.83l-1.35,1.86" stroke="#000" stroke-width="1.25" stroke-linecap="round" fill="none"/>
<text x="253.1" y="566.25" font-size="11" text-anchor="end" font-weight="bold" fill="#000" >10</text>
<text x="252.9" y="562.7" font-size="8.2" text-anchor="start" font-weight="bold" fill="#000" >6</text>
<text x="253.1" y="605.0" font-size="11" text-anchor="end" font-weight="bold" fill="#000" >10</text>
<text x="252.9" y="601.45" font-size="8.2" text-anchor="start" font-weight="bold" fill="#000" >5</text>
<text x="253.1" y="640.95" font-size="11" text-anchor="end" font-weight="bold" fill="#000" >10</text>
<text x="252.9" y="637.4" font-size="8.2" text-anchor="start" font-weight="bold" fill="#000" >4</text>
<text x="256.8" y="651.3" font-size="10" text-anchor="middle" font-weight="bold" fill="#000" >0</text>
<text x="276.27" y="651.3" font-size="10" text-anchor="middle" font-weight="bold" fill="#000" >10</text>
<text x="294.24" y="651.3" font-size="10" text-anchor="middle" font-weight="bold" fill="#000" >20</text>
<text x="312.21" y="651.3" font-size="10" text-anchor="middle" font-weight="bold" fill="#000" >30</text>
<text x="330.18" y="651.3" font-size="10" text-anchor="middle" font-weight="bold" fill="#000" >40</text>
<text x="348.15" y="651.3" font-size="10" text-anchor="middle" font-weight="bold" fill="#000" >50</text>
<text x="366.12" y="651.3" font-size="10" text-anchor="middle" font-weight="bold" fill="#000" >60</text>
<text x="384.09" y="651.3" font-size="10" text-anchor="middle" font-weight="bold" fill="#000" >70</text>
<text x="402.06" y="651.3" font-size="10" text-anchor="middle" font-weight="bold" fill="#000" >80</text>
<text x="420.03" y="651.3" font-size="10" text-anchor="middle" font-weight="bold" fill="#000" >90</text>
<text x="438.0" y="651.3" font-size="10" text-anchor="middle" font-weight="bold" fill="#000" >100</text>
<text x="306.6" y="667.0" font-size="11.5" text-anchor="start" font-weight="bold" fill="#000" textLength="111" lengthAdjust="spacingAndGlyphs">Days Post-Infection</text>
<line x1="306.6" y1="668.9" x2="417.7" y2="668.9" stroke="#333" stroke-width="1.0" />
</svg>
</body></html>
